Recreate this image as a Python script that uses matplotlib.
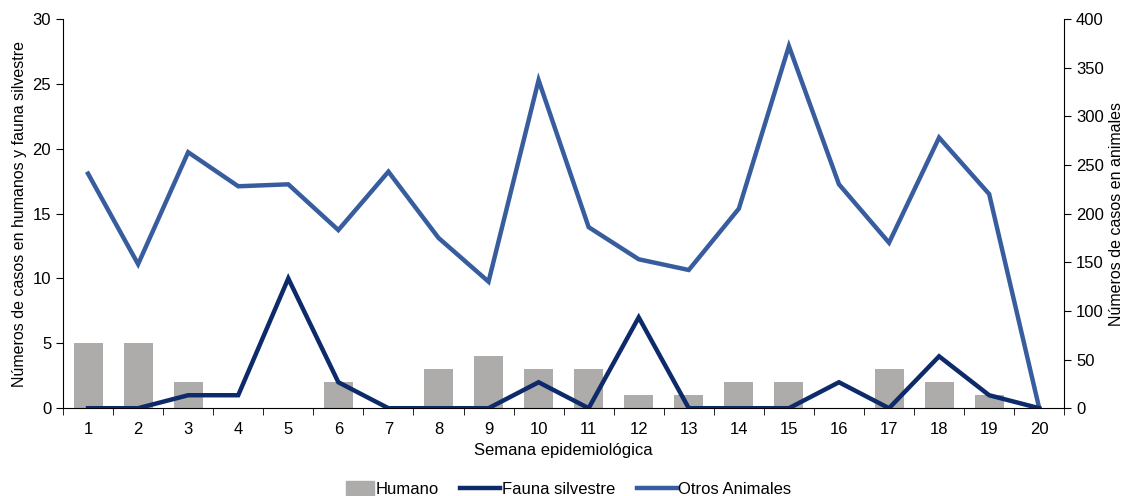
import numpy as np
import matplotlib
matplotlib.use("Agg")
import matplotlib.pyplot as plt
from matplotlib.patches import Patch, Rectangle
from matplotlib.lines import Line2D
from matplotlib.legend_handler import HandlerPatch

plt.rcParams['font.family'] = ['Liberation Sans', 'DejaVu Sans']

semanas = list(range(1, 21))
humano = [5, 5, 2, 0, 0, 2, 0, 3, 4, 3, 3, 1, 1, 2, 2, 0, 3, 2, 1, 0]
fauna = [0, 0, 1, 1, 10, 2, 0, 0, 0, 2, 0, 7, 0, 0, 0, 2, 0, 4, 1, 0]
otros = [241, 148, 263, 228, 230, 183, 243, 175, 130, 337,
         186, 153, 142, 205, 372, 230, 170, 278, 220, 0]

c_bar = '#AEABAB'
c_fauna = '#0D2A6A'
c_otros = '#385D9F'
lw = 3.2

fig = plt.figure(figsize=(11.25, 4.96), dpi=100)
ax = fig.add_axes([0.056, 0.177, 0.890, 0.785])
ax2 = ax.twinx()

x = np.array(semanas)
ax.bar(x, humano, width=0.58, color=c_bar, zorder=1)
ax.plot(x, fauna, color=c_fauna, lw=lw, zorder=3, solid_joinstyle='miter')
ax2.plot(x, otros, color=c_otros, lw=lw, zorder=3, solid_joinstyle='miter')

ax.set_xlim(0.5, 20.5)
ax.set_ylim(0, 30)
ax2.set_ylim(0, 400)
ax.set_yticks(range(0, 31, 5))
ax2.set_yticks(range(0, 401, 50))
ax.set_xticks(x)
ax.set_xticks(np.arange(0.5, 21, 1), minor=True)
ax.tick_params(axis='x', which='major', length=0, labelsize=12, pad=10)
ax.tick_params(axis='x', which='minor', length=5, direction='out')
ax.tick_params(axis='y', labelsize=12, length=5)
ax2.tick_params(axis='y', labelsize=12, length=5)

for a in (ax, ax2):
    a.spines['top'].set_visible(False)
ax.spines['right'].set_visible(False)
ax2.spines['left'].set_visible(False)
ax2.spines['bottom'].set_visible(False)

ax.set_xlabel('Semana epidemiológica', fontsize=12, labelpad=4)
ax.set_ylabel('Números de casos en humanos y fauna silvestre', fontsize=11.5)
ax2.set_ylabel('Números de casos en animales', fontsize=11.5)

ax.set_zorder(ax2.get_zorder() + 1)
ax.patch.set_visible(False)


# narrower swatch for the bar entry, like the original
def small_patch(legend, orig_handle, xdescent, ydescent, width, height, fontsize):
    w = width * 0.7
    return Rectangle((width - w - xdescent, -ydescent), w, height)


handles = [Patch(color=c_bar), Line2D([], [], color=c_fauna, lw=lw),
           Line2D([], [], color=c_otros, lw=lw)]
fig.legend(handles, ['Humano', 'Fauna silvestre', 'Otros Animales'],
           loc='center', bbox_to_anchor=(0.5, 0.014), ncol=3, frameon=False,
           fontsize=12, handlelength=2.4, handleheight=1.0, handletextpad=0.1,
           columnspacing=1.3,
           handler_map={Patch: HandlerPatch(patch_func=small_patch)})

fig.savefig('out.png', dpi=100)
